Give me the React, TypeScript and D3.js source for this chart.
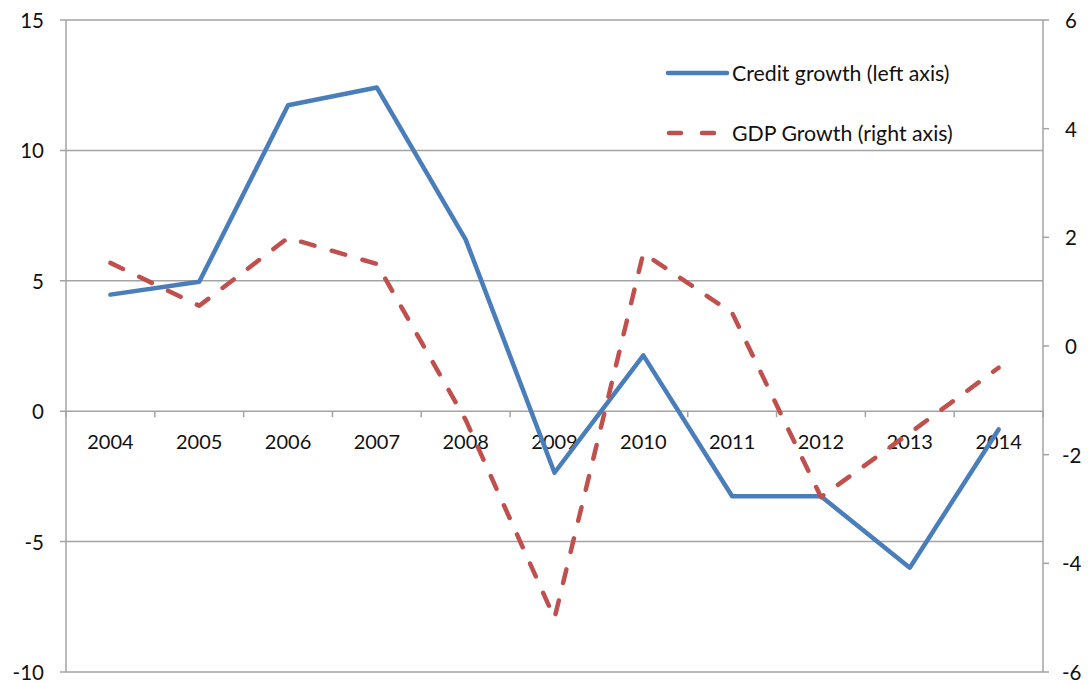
import React from "react";
import * as d3 from "d3";

const years = ["2004", "2005", "2006", "2007", "2008", "2009", "2010", "2011", "2012", "2013", "2014"];
const creditGrowth = [4.47, 4.96, 11.73, 12.41, 6.58, -2.36, 2.14, -3.26, -3.26, -6.0, -0.7];
const gdpGrowth = [1.53, 0.74, 1.99, 1.51, -1.36, -5.01, 1.71, 0.61, -2.78, -1.6, -0.4];
const leftTicks = [-10, -5, 0, 5, 10, 15];
const rightTicks = [-6, -4, -2, 0, 2, 4, 6];
const seriesNames = ["Credit growth (left axis)", "GDP Growth (right axis)"];

const W = 1088;
const H = 683;
const X0 = 66;
const X1 = 1043;
const Y0 = 20;
const Y1 = 672;
const FONT = "Lato, 'Open Sans', sans-serif";
const GRID = "#a3a3a3";
const BLUE = "#4a7ebb";
const RED = "#c0504d";

export default function App() {
  const x = d3.scaleBand<string>().domain(years).range([X0, X1]);
  const yL = d3.scaleLinear().domain([-10, 15]).range([Y1, Y0]);
  const yR = d3.scaleLinear().domain([-6, 6]).range([Y1, Y0]);
  const cx = (d: string) => (x(d) as number) + x.bandwidth() / 2;

  const creditLine = d3
    .line<number>()
    .x((_, i) => cx(years[i]))
    .y((v) => yL(v))(creditGrowth) as string;
  const gdpLine = d3
    .line<number>()
    .x((_, i) => cx(years[i]))
    .y((v) => yR(v))(gdpGrowth) as string;

  const boundaries = years.map((d) => x(d) as number).concat([X1]);

  return (
    <svg
      width={W}
      height={H}
      style={{ position: "absolute", left: 0, top: 0, background: "#fff" }}
      fontFamily={FONT}
    >
      {/* gridlines */}
      {leftTicks.map((t) => (
        <line key={"g" + t} x1={X0 - 6} x2={X1} y1={yL(t)} y2={yL(t)} stroke={GRID} strokeWidth={1.5} />
      ))}
      {/* axis lines */}
      <line x1={X0} x2={X0} y1={Y0} y2={Y1} stroke={GRID} strokeWidth={1.5} />
      <line x1={X1} x2={X1} y1={Y0} y2={Y1} stroke={GRID} strokeWidth={1.5} />
      {/* right ticks */}
      {rightTicks.map((t) => (
        <line key={"rt" + t} x1={X1} x2={X1 + 6} y1={yR(t)} y2={yR(t)} stroke={GRID} strokeWidth={1.5} />
      ))}
      {/* category ticks */}
      {boundaries.map((b, i) => (
        <line key={"ct" + i} x1={b} x2={b} y1={yL(0)} y2={yL(0) + 6} stroke={GRID} strokeWidth={1.5} />
      ))}
      {/* left labels */}
      {leftTicks.map((t) => (
        <text key={"ll" + t} x={44} y={yL(t)} textAnchor="end" dominantBaseline="central" fontSize={20.5} fill="#111">
          {t}
        </text>
      ))}
      {/* right labels */}
      {rightTicks.map((t) => (
        <text key={"rl" + t} x={t < 0 ? 1062 : 1065} y={yR(t)} textAnchor="start" dominantBaseline="central" fontSize={20.5} fill="#111">
          {t}
        </text>
      ))}
      {/* year labels */}
      {years.map((d) => (
        <text key={"yl" + d} x={cx(d)} y={441} textAnchor="middle" dominantBaseline="central" fontSize={20} fill="#111">
          {d}
        </text>
      ))}
      {/* series */}
      <path d={creditLine} fill="none" stroke={BLUE} strokeWidth={4.5} strokeLinejoin="round" strokeLinecap="round" />
      <path
        d={gdpLine}
        fill="none"
        stroke={RED}
        strokeWidth={4.5}
        strokeDasharray="14,18"
        strokeLinecap="round"
        strokeLinejoin="round"
      />
      {/* legend */}
      <line x1={668} x2={727} y1={73} y2={73} stroke={BLUE} strokeWidth={4.5} strokeLinecap="round" />
      <text x={732} y={73} dominantBaseline="central" fontSize={21.3} fill="#111">
        {seriesNames[0]}
      </text>
      <line x1={669} x2={720} y1={133} y2={133} stroke={RED} strokeWidth={4.5} strokeDasharray="12,21" strokeLinecap="round" />
      <text x={732} y={133} dominantBaseline="central" fontSize={21.3} fill="#111">
        {seriesNames[1]}
      </text>
    </svg>
  );
}
